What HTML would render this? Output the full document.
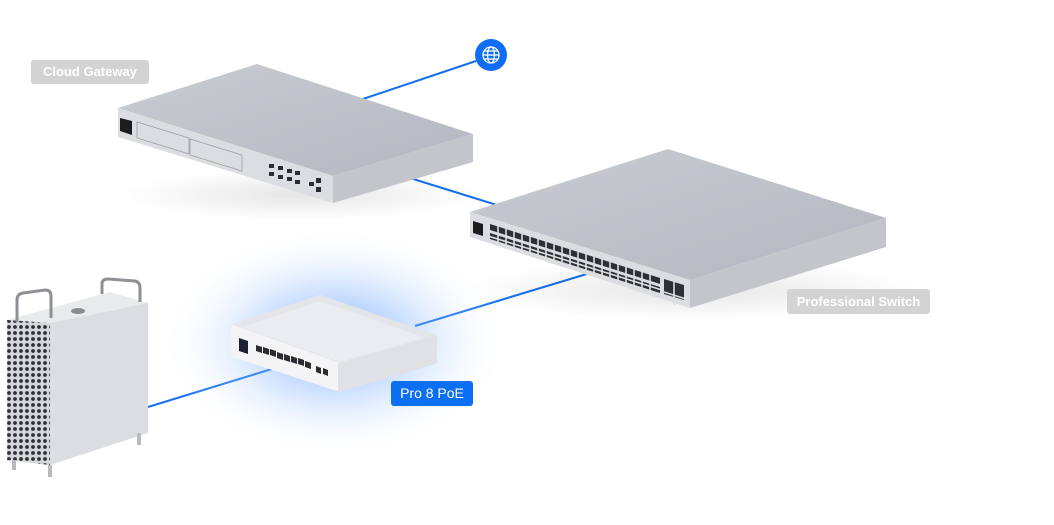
<!DOCTYPE html>
<html><head><meta charset="utf-8"><style>
html,body{margin:0;padding:0;background:#fff;}
body{width:1054px;height:525px;overflow:hidden;position:relative;font-family:"Liberation Sans",sans-serif;}
.lbl{position:absolute;color:#fff;font-size:13px;font-weight:bold;border-radius:3px;text-align:center;}
</style></head><body>
<svg width="1054" height="525" style="position:absolute;left:0;top:0">
<defs>
<radialGradient id="glow" cx="50%" cy="50%" r="50%">
<stop offset="0%" stop-color="#3d8bff" stop-opacity="0.7"/>
<stop offset="50%" stop-color="#8dbaff" stop-opacity="0.35"/>
<stop offset="100%" stop-color="#ffffff" stop-opacity="0"/>
</radialGradient>
<radialGradient id="sh" cx="50%" cy="50%" r="50%">
<stop offset="0%" stop-color="#000" stop-opacity="0.1"/>
<stop offset="100%" stop-color="#000" stop-opacity="0"/>
</radialGradient>
<linearGradient id="topg" x1="0" y1="0" x2="1" y2="1">
<stop offset="0%" stop-color="#c9ccd3"/><stop offset="100%" stop-color="#b4b7bf"/>
</linearGradient>
<pattern id="holes" width="6" height="6" patternUnits="userSpaceOnUse">
<rect width="6" height="6" fill="#d4d6da"/><circle cx="3" cy="3" r="1.9" fill="#2f3034"/>
</pattern>
</defs>
<g stroke="#1570ef" stroke-width="2" fill="none">
<line x1="476" y1="61" x2="360" y2="100"/>
<line x1="410" y1="178" x2="500" y2="206"/>
<line x1="590" y1="273" x2="415" y2="326"/>
<line x1="275" y1="368" x2="148" y2="407"/>
</g>
<ellipse cx="335" cy="342" rx="175" ry="115" fill="url(#glow)"/>
<ellipse cx="300" cy="195" rx="180" ry="25" fill="url(#sh)"/>
<ellipse cx="690" cy="290" rx="230" ry="30" fill="url(#sh)"/>
<!-- Cloud gateway -->
<polygon points="118,108 257,64 473,134 333,176" fill="url(#topg)"/>
<polygon points="118,108 333,176 333,203 118,137" fill="#dcdde1"/>
<polygon points="333,176 473,134 473,162 333,203" fill="#c3c5cb"/>
<polygon points="120,118 132,121 132,135 120,131" fill="#1c1c1e"/>
<polygon points="137,122 189,138 189,154 137,138" fill="none" stroke="#9a9ca2" stroke-width="0.8"/>
<polygon points="190,139 242,155 242,171 190,155" fill="none" stroke="#9a9ca2" stroke-width="0.8"/>
<g fill="#2b2c30">
<rect x="269" y="164" width="5" height="4"/><rect x="278" y="166" width="5" height="4"/><rect x="287" y="169" width="5" height="4"/><rect x="295" y="171" width="5" height="4"/>
<rect x="269" y="172" width="5" height="4"/><rect x="278" y="175" width="5" height="4"/><rect x="287" y="177" width="5" height="4"/><rect x="295" y="180" width="5" height="4"/>
<rect x="309" y="182" width="5" height="4"/><rect x="316" y="178" width="5" height="5"/><rect x="316" y="187" width="5" height="5"/>
</g>
<!-- Professional switch -->
<polygon points="470,212 668,149 886,218 690,280" fill="url(#topg)"/>
<polygon points="470,212 690,280 690,308 470,237" fill="#dcdde1"/>
<polygon points="690,280 886,218 886,247 690,308" fill="#c3c5cb"/>
<polygon points="473,221 483,224 483,236 473,233" fill="#1c1c1e"/>
<g fill="#2e2f33">
<polygon points="490,224 660,278 660,284 490,230"/>
<polygon points="490,233 660,287 660,293 490,239"/>
<polygon points="664,279 684,285 684,300 664,294"/>
</g>
<g stroke="#dcdde1" stroke-width="1.6">
<path d="M498,220 l0,24 M506,222 l0,24 M514,225 l0,24 M522,227 l0,24 M530,230 l0,24 M538,232 l0,24 M546,235 l0,24 M554,237 l0,24 M562,240 l0,24 M570,242 l0,24 M578,245 l0,24 M586,247 l0,24 M594,250 l0,24 M602,252 l0,24 M610,255 l0,24 M618,257 l0,24 M626,260 l0,24 M634,262 l0,24 M642,265 l0,24 M650,267 l0,24 M674,281 l0,24"/>
<path d="M488,236 L662,290 M664,292 L686,299"/>
</g>
<!-- Pro 8 PoE -->
<polygon points="233,327 320,298 435,338 340,365" fill="#ebecef" stroke="#e4e5e8" stroke-width="6" stroke-linejoin="round"/>
<polygon points="233,327 340,365 340,390 233,355" fill="#f4f4f6" stroke="#f4f4f6" stroke-width="4" stroke-linejoin="round"/>
<polygon points="340,365 435,338 435,362 340,390" fill="#e0e1e5" stroke="#e0e1e5" stroke-width="4" stroke-linejoin="round"/>
<polygon points="239,338 248,341 248,354 239,351" fill="#1d2030"/>
<g fill="#2a2b30">
<polygon points="256,345 262,347 262,353 256,351"/><polygon points="263,347 269,349 269,355 263,353"/><polygon points="270,349 276,351 276,357 270,355"/><polygon points="277,352 283,354 283,360 277,358"/>
<polygon points="284,354 290,356 290,362 284,360"/><polygon points="291,356 297,358 297,364 291,362"/><polygon points="298,358 304,360 304,366 298,364"/><polygon points="305,361 311,363 311,369 305,367"/>
<polygon points="316,366 321,368 321,374 316,372"/><polygon points="323,368 328,370 328,376 323,374"/>
</g>
<!-- Mac Pro -->
<polygon points="7,320 110,292 148,303 50,323" fill="#e9eaec"/>
<polygon points="50,323 148,303 148,433 50,465" fill="#dcdde0"/>
<polygon points="7,320 50,323 50,465 7,460" fill="url(#holes)"/>
<path d="M17,322 L17,300 Q17,294 23,293 L45,290 Q51,290 51,296 L51,318" stroke="#8e9096" stroke-width="3" fill="none"/>
<path d="M102,294 L102,284 Q102,279 108,279 L135,281 Q140,282 140,288 L140,302" stroke="#8e9096" stroke-width="3" fill="none"/>
<ellipse cx="78" cy="311" rx="7" ry="3" fill="#8a8c92"/>
<g fill="#b9bbc0"><rect x="12" y="460" width="4" height="10"/><rect x="48" y="465" width="4" height="12"/><rect x="137" y="433" width="4" height="12"/></g>
<circle cx="491" cy="55" r="16" fill="#0f6ef5"/>
<g stroke="#fff" stroke-width="1.3" fill="none">
<circle cx="491" cy="55" r="8"/><ellipse cx="491" cy="55" rx="3.5" ry="8"/>
<line x1="483" y1="55" x2="499" y2="55"/><line x1="484.5" y1="51" x2="497.5" y2="51"/><line x1="484.5" y1="59" x2="497.5" y2="59"/>
</g>
</svg>
<div class="lbl" style="left:31px;top:60px;width:118px;height:24px;line-height:24px;background:#d3d3d3;">Cloud Gateway</div>
<div class="lbl" style="left:787px;top:289px;width:143px;height:25px;line-height:25px;background:#d3d3d3;">Professional Switch</div>
<div class="lbl" style="left:391px;top:381px;width:82px;height:25px;line-height:25px;background:#0d6ff2;font-size:14px;font-weight:normal;">Pro 8 PoE</div>
</body></html>
